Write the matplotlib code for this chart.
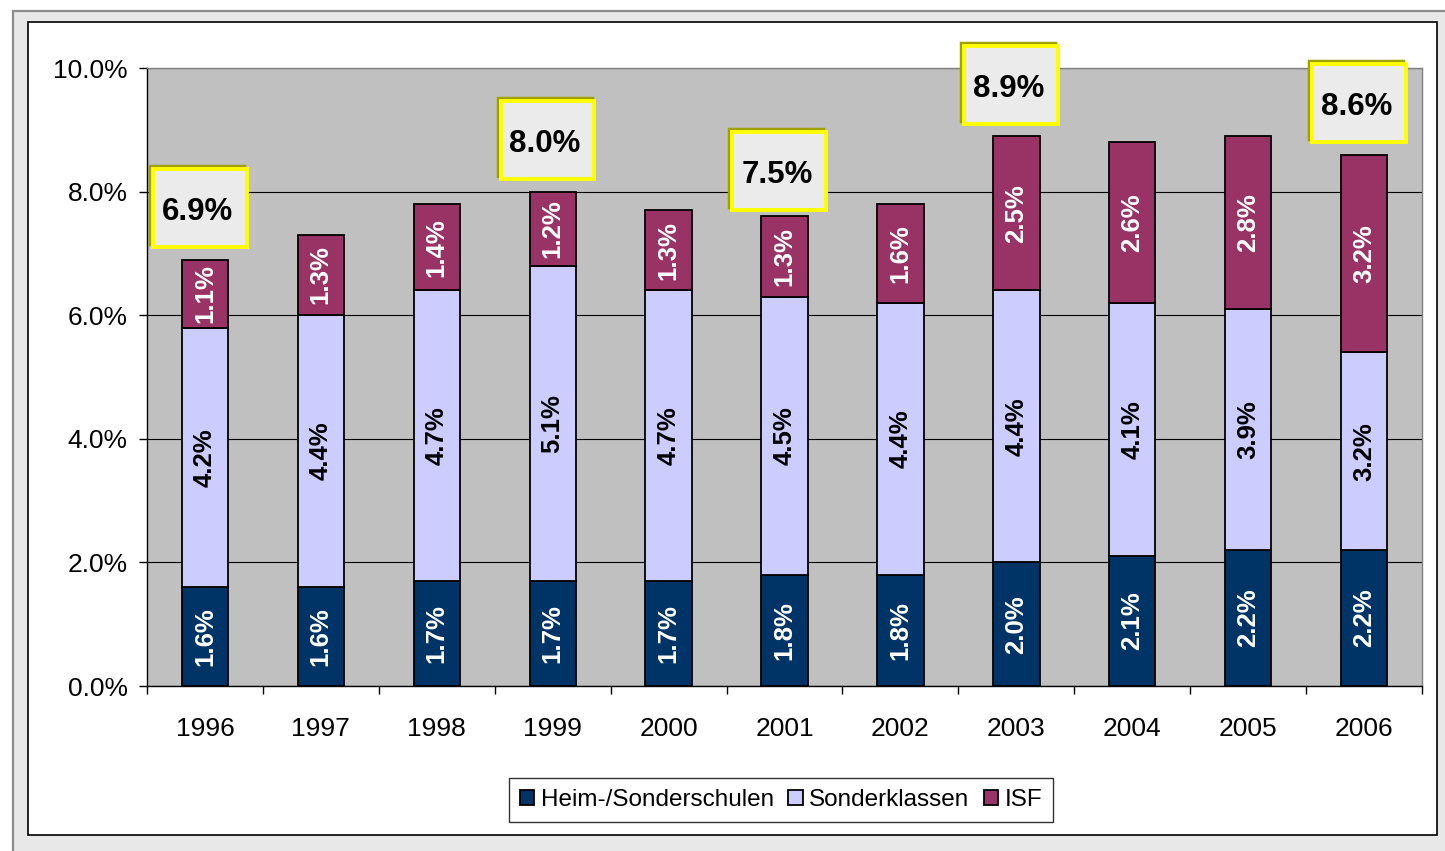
import numpy as np
import matplotlib.pyplot as plt
from matplotlib.patches import Rectangle
from matplotlib.ticker import FuncFormatter, FixedLocator

plt.rcParams['font.family'] = ['Liberation Sans', 'DejaVu Sans']

years = ['1996', '1997', '1998', '1999', '2000', '2001', '2002', '2003', '2004', '2005', '2006']
heim = [1.6, 1.6, 1.7, 1.7, 1.7, 1.8, 1.8, 2.0, 2.1, 2.2, 2.2]
sonderklassen = [4.2, 4.4, 4.7, 5.1, 4.7, 4.5, 4.4, 4.4, 4.1, 3.9, 3.2]
isf = [1.1, 1.3, 1.4, 1.2, 1.3, 1.3, 1.6, 2.5, 2.6, 2.8, 3.2]

total_years = ['1996', '1999', '2001', '2003', '2006']
total_vals = [6.9, 8.0, 7.5, 8.9, 8.6]

series = [
    ('Heim-/Sonderschulen', heim, '#003366', 'white'),
    ('Sonderklassen', sonderklassen, '#ccccff', 'black'),
    ('ISF', isf, '#993366', 'white'),
]

fig = plt.figure(figsize=(14.45, 8.51), dpi=100)
fig.patch.set_facecolor('white')

# Rahmen (grau aussen, weisses Panel innen)
fig.patches.append(Rectangle((13 / 1445, -0.1), 1.1, 1 - 11 / 851 + 0.1,
                             transform=fig.transFigure, facecolor='#e8e8e8',
                             edgecolor='#8c8c8c', linewidth=1.6, zorder=-3))
fig.patches.append(Rectangle((28 / 1445, 16 / 851), (1437 - 28) / 1445, (835 - 22) / 851,
                             transform=fig.transFigure, facecolor='white',
                             edgecolor='black', linewidth=1.2, zorder=-2))

ax = fig.add_axes([147 / 1445, 165 / 851, (1422 - 147) / 1445, (686 - 68) / 851])
ax.set_facecolor('#c0c0c0')

x = np.arange(len(years))
bottom = np.zeros(len(years))
for name, vals, color, txtcolor in series:
    vals = np.array(vals)
    ax.bar(x, vals, 0.4, bottom=bottom, color=color, edgecolor='black',
           linewidth=1.3, label=name, zorder=3)
    for xi, b, v in zip(x, bottom, vals):
        ax.text(xi, b + v / 2, f'{v:.1f}%', rotation=90, ha='center', va='center',
                color=txtcolor, fontsize=18.5, fontweight='bold', zorder=4)
    bottom = bottom + vals

# Summenkaesten
for yr, tv in zip(total_years, total_vals):
    xi = years.index(yr)
    bx, by, bw, bh = xi - 0.45, tv + 0.2, 0.81, 1.26
    ax.add_patch(Rectangle((bx - 0.025, by + 0.05), bw, bh, facecolor='none',
                           edgecolor='#a0a000', linewidth=2.5, zorder=5, clip_on=False))
    ax.add_patch(Rectangle((bx, by), bw, bh, facecolor='#ebebeb',
                           edgecolor='#ffff00', linewidth=2.8, zorder=6, clip_on=False))
    ax.text(bx + bw / 2 - 0.02, by + bh * 0.45, f'{tv:.1f}%', ha='center', va='center',
            fontsize=22.5, fontweight='bold', color='black', zorder=7, clip_on=False)

ax.set_xlim(-0.5, len(years) - 0.5)
ax.set_ylim(0, 10)
ax.set_yticks(np.arange(0, 10.1, 2))
ax.yaxis.set_major_formatter(FuncFormatter(lambda v, p: f'{v:.1f}%'))
ax.tick_params(axis='y', direction='out', length=6, width=1, labelsize=19, pad=8)

ax.set_xticks(x)
ax.set_xticklabels(years)
ax.xaxis.set_minor_locator(FixedLocator(np.arange(-0.5, len(years), 1)))
ax.tick_params(axis='x', which='major', length=0, labelsize=19, pad=22)
ax.tick_params(axis='x', which='minor', direction='out', length=6, width=1)

ax.set_axisbelow(True)
ax.yaxis.grid(True, color='black', linewidth=0.8)
ax.spines['top'].set_color('#808080')
ax.spines['right'].set_color('#808080')
ax.spines['left'].set_color('black')
ax.spines['bottom'].set_color('black')
for s in ax.spines.values():
    s.set_linewidth(1.0)
    s.set_zorder(3.5)

leg = ax.legend(loc='center', bbox_to_anchor=(781 / 1445, 1 - 800 / 851),
                bbox_transform=fig.transFigure, ncol=3, fontsize=17.5,
                frameon=True, fancybox=False, edgecolor='black',
                handlelength=0.6, handleheight=0.6, handletextpad=0.25,
                columnspacing=0.6, borderpad=0.45, borderaxespad=0)
leg.get_frame().set_linewidth(1.0)

fig.savefig('out.png', dpi=100)
